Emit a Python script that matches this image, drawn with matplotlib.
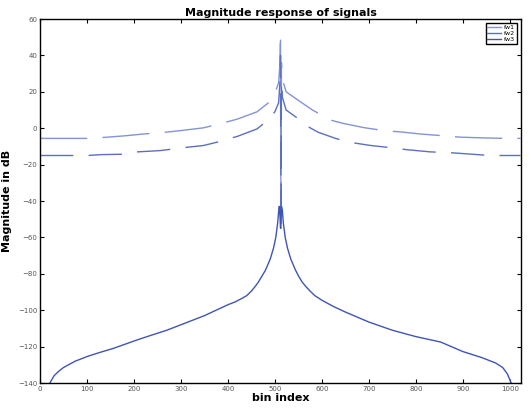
import matplotlib
matplotlib.use('Agg')
import matplotlib.pyplot as plt

#### Data ####
fw1_bins = [0, 100, 134, 180, 224, 257, 300, 348, 380, 420, 462, 486, 500, 508, 511, 512,
            513, 514, 516, 524, 546, 580, 618, 646, 690, 736, 767, 810, 861, 893, 940, 989, 1023]
fw1_db = [-5.6, -5.6, -5.1, -4.2, -3.1, -2.5, -1.3, 0.2, 2.2, 5.0, 9.0, 13.9, 19, 25, 36, 52,
          -55, 36, 27, 20, 16, 10, 4.5, 2.6, 0.3, -1.5, -2.0, -3.2, -4.2, -4.9, -5.3, -5.6, -5.6]

fw2_bins = [0, 100, 132, 177, 208, 256, 302, 348, 380, 420, 462, 484, 500, 508, 511, 512,
            513, 514, 516, 524, 540, 556, 566, 592, 629, 655, 671, 704, 750, 781, 830, 876,
            920, 958, 1023]
fw2_db = [-15, -15, -14.5, -14.3, -13.0, -12.3, -10.8, -9.5, -7.5, -4.5, -0.4, 4.2, 9, 14, 26, 40,
          -55, 26, 17, 10, 7, 4.1, 1.5, -2.2, -5.6, -7.4, -8.2, -9.5, -10.8, -11.8, -13, -13.5,
          -14.3, -15, -15]

fw3_bins = [21, 30, 40, 50, 75, 103, 130, 156, 206, 234, 270, 300, 350, 400, 415, 430, 440,
            450, 458, 465, 472, 480, 490, 497, 502, 506, 509, 510, 512, 514, 516, 518, 522,
            527, 534, 544, 551, 558, 566, 575, 585, 600, 625, 650, 700, 750, 800, 853, 900,
            940, 970, 985, 995, 1003]
fw3_db = [-140, -136, -133.5, -131.5, -128, -125.2, -123, -121, -116.4, -114, -111, -108, -103,
          -97, -95.5, -93.5, -92, -89.5, -87, -84.5, -81.5, -78, -72, -66, -60, -52, -43, -43,
          -55, -43, -45, -52, -60, -66, -72, -78, -81.5, -84.5, -87, -89.5, -92, -94.5, -98,
          -101, -106.5, -111, -114.5, -117.5, -122.7, -126, -129, -131.5, -135, -140]

x_ticks = [0, 100, 200, 300, 400, 500, 600, 700, 800, 900, 1000]
y_ticks = [-140, -120, -100, -80, -60, -40, -20, 0, 20, 40, 60]

#### Plot ####
fig = plt.figure(figsize=(5.31, 4.13), dpi=100)
ax = fig.add_axes([40 / 531, 30 / 413, 481 / 531, 364 / 413])

ax.plot(fw1_bins, fw1_db, color='#8394d4', lw=1.0, linestyle=(0, (34, 11)), label='fw1')
ax.plot(fw2_bins, fw2_db, color='#5b6fc4', lw=1.0, linestyle=(0, (24, 11)), label='fw2')
ax.plot(fw3_bins, fw3_db, color='#3f55b5', lw=1.0, label='fw3')

ax.set_xlim(0, 1024)
ax.set_ylim(-140, 60)
ax.set_xticks(x_ticks)
ax.set_yticks(y_ticks)
ax.tick_params(direction='in', length=3, width=0.8, labelsize=5, labelcolor='#555555',
               top=True, right=True, pad=2)
for s in ax.spines.values():
    s.set_linewidth(1.0)

ax.set_title('Magnitude response of signals', fontsize=8, fontweight='bold', pad=2)
ax.set_xlabel('bin index', fontsize=8, fontweight='bold', labelpad=1)
ax.set_ylabel('Magnitude in dB', fontsize=8, fontweight='bold', labelpad=4)

leg = ax.legend(loc='upper right', fontsize=4.5, handlelength=2.2, borderpad=0.3,
                labelspacing=0.1, handletextpad=0.5, fancybox=False, framealpha=1,
                edgecolor='black', borderaxespad=0.6)
for h in leg.get_lines():
    h.set_linestyle('-')
leg.get_frame().set_linewidth(1.0)

fig.savefig('out.png', dpi=100)
